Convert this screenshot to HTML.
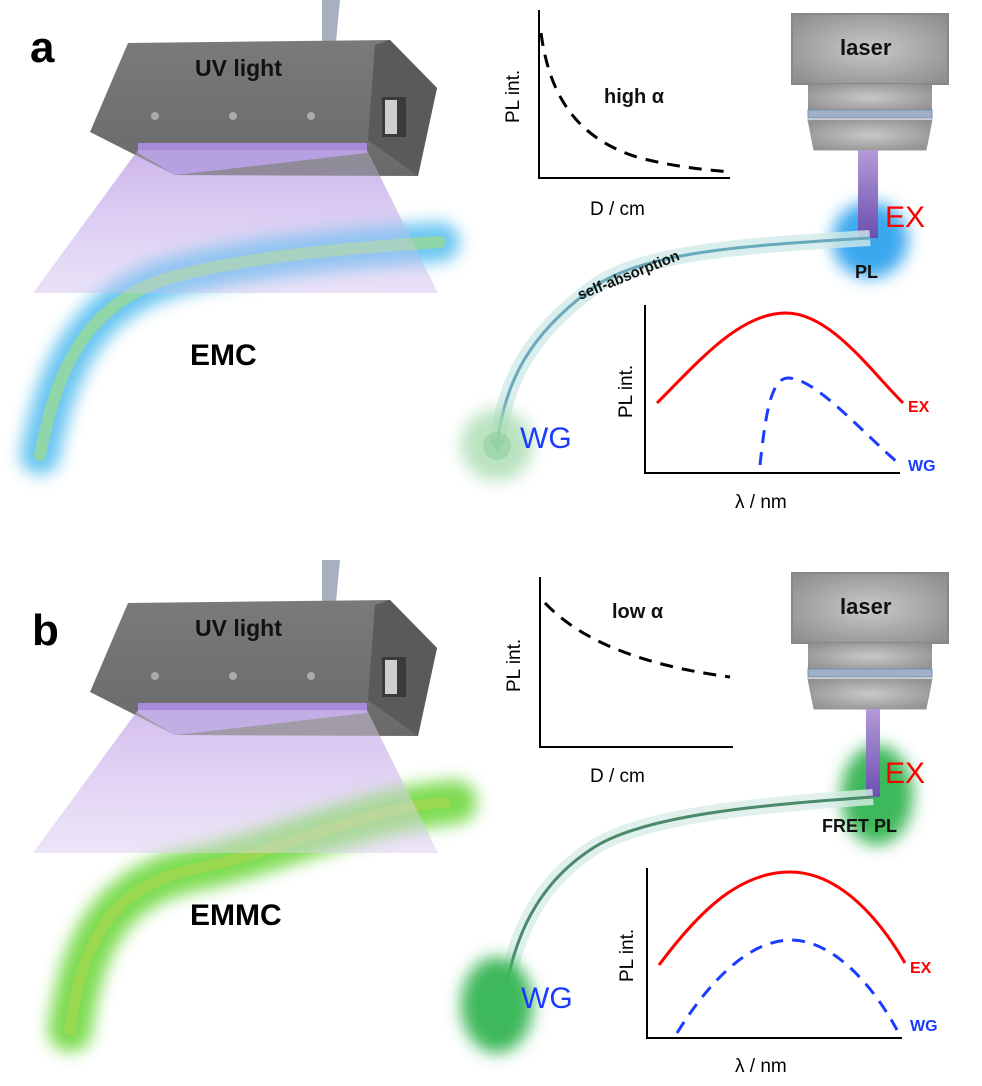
<!DOCTYPE html>
<html><head><meta charset="utf-8"><style>
html,body{margin:0;padding:0;background:#fff;}
svg{display:block}
.hand{font-family:"Liberation Sans",sans-serif;font-weight:bold;}
</style></head><body>
<svg width="982" height="1086" viewBox="0 0 982 1086" xmlns="http://www.w3.org/2000/svg">
<defs>
<filter id="b8" x="-50%" y="-50%" width="200%" height="200%"><feGaussianBlur stdDeviation="8"/></filter>
<filter id="b14" x="-50%" y="-50%" width="200%" height="200%"><feGaussianBlur stdDeviation="14"/></filter>
<linearGradient id="uvg" x1="0" y1="0" x2="0" y2="1">
<stop offset="0" stop-color="#b48ee0" stop-opacity="0.75"/><stop offset="1" stop-color="#c8b0ee" stop-opacity="0.2"/></linearGradient>
<linearGradient id="boxg" x1="0" y1="0" x2="0" y2="1"><stop offset="0" stop-color="#7a7a7a"/><stop offset="1" stop-color="#6a6a6a"/></linearGradient>
<radialGradient id="lasg" cx="0.5" cy="0.5" r="0.7"><stop offset="0" stop-color="#c8c8c8"/><stop offset="1" stop-color="#8a8a8a"/></radialGradient>
<linearGradient id="beam" x1="0" y1="0" x2="0" y2="1"><stop offset="0" stop-color="#b49ad8"/><stop offset="1" stop-color="#6a4fb0"/></linearGradient>
<g id="uv">
<path d="M322,0 L340,0 L336,42 L322,42 Z" fill="#a8b0c0"/>
<polygon points="128,43 390,40 437,88 418,176 175,175 90,132" fill="url(#boxg)"/>
<polygon points="390,40 437,88 418,176 368,140 375,45" fill="#5a5a5a"/>
<rect x="382" y="97" width="24" height="40" fill="#3a3a3a"/>
<rect x="385" y="100" width="12" height="34" fill="#cfcfcf"/>
<circle cx="155" cy="116" r="4" fill="#aaa"/><circle cx="233" cy="116" r="4" fill="#aaa"/><circle cx="311" cy="116" r="4" fill="#aaa"/>
<polygon points="138,143 367,143 367,153 175,175 138,153" fill="#a78ad8"/>
<text x="195" y="76" font-size="23" class="hand" fill="#111">UV light</text>
</g>
<g id="laser">
<rect x="792" y="14" width="156" height="70" fill="url(#lasg)" stroke="#888" stroke-width="2"/>
<rect x="808" y="84" width="124" height="27" fill="url(#lasg)"/>
<rect x="808" y="110" width="124" height="8" fill="#9fb0c8" stroke="#7890b0"/>
<polygon points="808,120 932,120 926,150 814,150" fill="url(#lasg)" stroke="#999"/>
<text x="840" y="55" font-size="22" class="hand" fill="#111">laser</text>
</g>
</defs>

<!-- ===== Panel a ===== -->
<text x="30" y="62" font-size="44" class="hand" fill="#000">a</text>
<polygon points="138,150 367,150 438,293 33,293" fill="url(#uvg)"/>
<use href="#uv"/>
<path d="M40,455 C55,380 80,300 180,275 C260,255 350,248 440,242" fill="none" stroke="#5cc0f0" stroke-width="40" stroke-linecap="round" filter="url(#b8)" opacity="0.9"/>
<path d="M40,455 C55,380 80,300 180,275 C260,255 350,248 440,242" fill="none" stroke="#8fd6a8" stroke-width="12" stroke-linecap="round"/>
<polygon points="138,150 367,150 438,293 33,293" fill="#d8c8f0" opacity="0.35"/>
<text x="190" y="365" font-size="30" class="hand" fill="#000">EMC</text>

<!-- graph 1a -->
<path d="M539,10 V178 H730" fill="none" stroke="#000" stroke-width="2"/>
<path d="M541,33 C550,100 580,140 640,158 C680,168 710,170 730,172" fill="none" stroke="#000" stroke-width="3" stroke-dasharray="13,9"/>
<text x="604" y="103" font-size="20" class="hand" fill="#111">high α</text>
<text transform="translate(519,123) rotate(-90)" font-size="19" font-family="Liberation Sans,sans-serif" fill="#000">PL int.</text>
<text x="590" y="215" font-size="19" font-family="Liberation Sans,sans-serif" fill="#000">D / cm</text>

<use href="#laser"/>
<circle cx="870" cy="240" r="38" fill="#3aa8ee" filter="url(#b8)"/>
<rect x="858" y="150" width="20" height="88" fill="url(#beam)"/>
<text x="885" y="227" font-size="30" font-family="Liberation Sans,sans-serif" fill="#f00">EX</text>
<text x="855" y="278" font-size="18" class="hand" fill="#111">PL</text>

<path d="M870,238 C760,245 640,250 590,290 C530,335 505,380 497,445" fill="none" stroke="#cfeae8" stroke-width="16" opacity="0.8"/>
<path d="M870,238 C760,245 640,250 590,290 C530,335 505,380 497,445" fill="none" stroke="#6aaabb" stroke-width="3"/>
<polygon points="490,440 504,440 497,452" fill="#6ab88a"/>
<text transform="translate(580,300) rotate(-22)" font-size="15" class="hand" fill="#111">self-absorption</text>
<circle cx="497" cy="445" r="36" fill="#a8dcb0" filter="url(#b8)" opacity="0.8"/>
<circle cx="497" cy="446" r="14" fill="#90d0a0" opacity="0.6"/>
<text x="520" y="448" font-size="30" font-family="Liberation Sans,sans-serif" fill="#1a3cff">WG</text>

<!-- graph 2a -->
<path d="M645,305 V473 H900" fill="none" stroke="#000" stroke-width="2"/>
<path d="M657,403 C700,360 740,313 786,313 C830,313 870,370 903,403" fill="none" stroke="#f00" stroke-width="3"/>
<path d="M760,465 C765,420 770,378 788,378 C815,378 860,430 897,462" fill="none" stroke="#1a3cff" stroke-width="3" stroke-dasharray="13,9"/>
<text x="908" y="412" font-size="16" class="hand" fill="#f00">EX</text>
<text x="908" y="471" font-size="16" class="hand" fill="#1a3cff">WG</text>
<text transform="translate(632,418) rotate(-90)" font-size="19" font-family="Liberation Sans,sans-serif" fill="#000">PL int.</text>
<text x="735" y="508" font-size="19" font-family="Liberation Sans,sans-serif" fill="#000">λ / nm</text>

<!-- ===== Panel b ===== -->
<text x="32" y="645" font-size="44" class="hand" fill="#000">b</text>
<g transform="translate(0,560)">
<polygon points="138,150 367,150 438,293 33,293" fill="url(#uvg)"/>
<use href="#uv"/>
<path d="M70,470 C80,400 100,330 190,310 C270,295 360,250 455,242" fill="none" stroke="#70d840" stroke-width="44" stroke-linecap="round" filter="url(#b8)" opacity="0.9"/>
<path d="M70,470 C80,400 100,330 190,310 C270,295 360,250 445,242" fill="none" stroke="#9ad850" stroke-width="11" stroke-linecap="round"/>
<polygon points="138,150 367,150 438,293 33,293" fill="#e4d8f4" opacity="0.45"/>
</g>
<text x="190" y="925" font-size="30" class="hand" fill="#000">EMMC</text>

<!-- graph 1b -->
<path d="M540,577 V747 H733" fill="none" stroke="#000" stroke-width="2"/>
<path d="M545,603 C580,640 640,665 730,677" fill="none" stroke="#000" stroke-width="3" stroke-dasharray="13,9"/>
<text x="612" y="618" font-size="20" class="hand" fill="#111">low α</text>
<text transform="translate(520,692) rotate(-90)" font-size="19" font-family="Liberation Sans,sans-serif" fill="#000">PL int.</text>
<text x="590" y="782" font-size="19" font-family="Liberation Sans,sans-serif" fill="#000">D / cm</text>

<g transform="translate(0,559)"><use href="#laser"/></g>
<ellipse cx="877" cy="795" rx="36" ry="50" fill="#3cb85a" filter="url(#b8)"/>
<rect x="866" y="709" width="14" height="88" fill="url(#beam)"/>
<text x="885" y="783" font-size="30" font-family="Liberation Sans,sans-serif" fill="#f00">EX</text>
<text x="822" y="832" font-size="18" class="hand" fill="#111">FRET PL</text>

<path d="M873,797 C760,805 640,815 590,850 C530,890 510,950 502,1013" fill="none" stroke="#d8ece8" stroke-width="16" opacity="0.8"/>
<path d="M873,797 C760,805 640,815 590,850 C530,890 510,950 502,1013" fill="none" stroke="#4a8a6a" stroke-width="3"/>
<polygon points="495,1008 509,1008 502,1020" fill="#3a9a5a"/>
<ellipse cx="497" cy="1005" rx="36" ry="48" fill="#3cb85a" filter="url(#b8)"/>
<text x="521" y="1008" font-size="30" font-family="Liberation Sans,sans-serif" fill="#1a3cff">WG</text>

<!-- graph 2b -->
<path d="M647,868 V1038 H902" fill="none" stroke="#000" stroke-width="2"/>
<path d="M659,965 C700,910 740,872 790,872 C840,872 880,920 905,963" fill="none" stroke="#f00" stroke-width="3"/>
<path d="M677,1033 C710,980 750,940 791,940 C830,940 870,980 897,1030" fill="none" stroke="#1a3cff" stroke-width="3" stroke-dasharray="13,9"/>
<text x="910" y="973" font-size="16" class="hand" fill="#f00">EX</text>
<text x="910" y="1031" font-size="16" class="hand" fill="#1a3cff">WG</text>
<text transform="translate(633,982) rotate(-90)" font-size="19" font-family="Liberation Sans,sans-serif" fill="#000">PL int.</text>
<text x="735" y="1072" font-size="19" font-family="Liberation Sans,sans-serif" fill="#000">λ / nm</text>
</svg>
</body></html>
